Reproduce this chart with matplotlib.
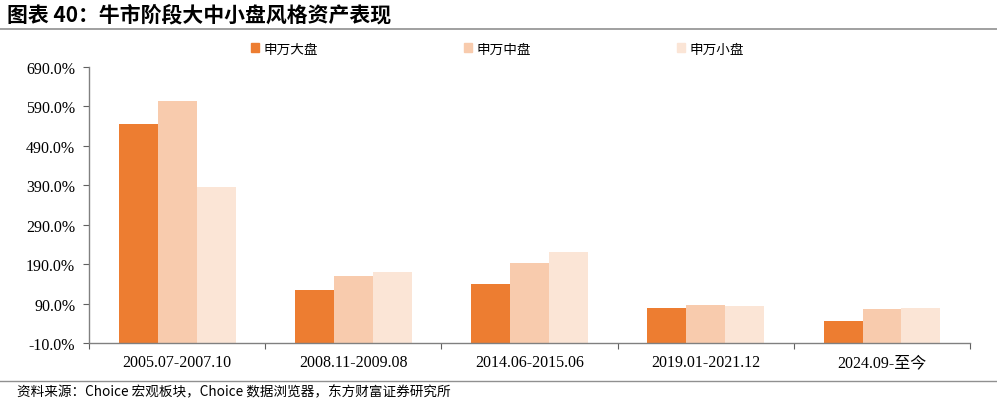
import numpy as np
import matplotlib.pyplot as plt
from matplotlib.patches import Patch

plt.rcParams['font.family'] = ['Noto Sans CJK SC', 'DejaVu Sans']

# Data (%)
periods = ['2005.07-2007.10', '2008.11-2009.08', '2014.06-2015.06', '2019.01-2021.12', '2024.09-至今']
large_cap = [545, 125, 140, 79, 46]
mid_cap = [605, 160, 193, 87, 75]
small_cap = [385, 170, 221, 84, 79]
series_names = ['申万大盘', '申万中盘', '申万小盘']
colors = ['#ED7D31', '#F8CBAD', '#FBE5D6']

fig = plt.figure(figsize=(9.97, 4.06), dpi=100)
ax = fig.add_axes([0.0893, 0.1527, 0.8837, 0.6798])

x = np.arange(len(periods))
w = 0.221
base = -10
for i, vals in enumerate([large_cap, mid_cap, small_cap]):
    heights = np.array(vals) - base
    ax.bar(x + (i - 1) * w, heights, w, bottom=base, color=colors[i], label=series_names[i])

ax.set_xlim(-0.5, len(periods) - 0.5)
ax.set_ylim(-10, 690)
yt = np.arange(-10, 691, 100)
ax.set_yticks(yt)
ax.set_yticklabels([f'{v:.1f}%' for v in yt], family='Liberation Serif', fontsize=11.5)

# category ticks at group boundaries, labels centred
ax.set_xticks(np.arange(-0.5, len(periods)), minor=False)
ax.set_xticklabels([])
ax.set_xticks(x, minor=True)
ax.set_xticklabels(periods, minor=True, fontsize=11.5,
                   family=['Liberation Serif', 'Noto Sans CJK SC'])
ax.tick_params(axis='x', which='minor', length=0, pad=8)
ax.tick_params(axis='x', which='major', length=4, direction='out', color='#606060')
ax.tick_params(axis='y', length=4, direction='out', color='#606060', pad=6)

for s in ['top', 'right']:
    ax.spines[s].set_visible(False)
for s in ['left', 'bottom']:
    ax.spines[s].set_color('#808080')
    ax.spines[s].set_linewidth(1.0)

handles = [Patch(color=c) for c in colors]
fig.legend(handles, series_names, loc='center', bbox_to_anchor=(0.499, 0.878), ncol=3,
           frameon=False, fontsize=9.8, handlelength=0.6, handleheight=0.6,
           handletextpad=0.35, columnspacing=10.7)

# title and footer
fig.text(0.007, 0.962, '图表 40：牛市阶段大中小盘风格资产表现', fontsize=15,
         fontweight='bold', va='center', ha='left')
fig.add_artist(plt.Line2D([0, 1], [0.926, 0.926], color='#909090', lw=1.2))
fig.add_artist(plt.Line2D([0, 1], [0.06, 0.06], color='#909090', lw=1.0))
fig.text(0.017, 0.033, '资料来源：Choice 宏观板块，Choice 数据浏览器，东方财富证券研究所',
         fontsize=9.8, va='center', ha='left')

fig.savefig('out.png', dpi=100)
